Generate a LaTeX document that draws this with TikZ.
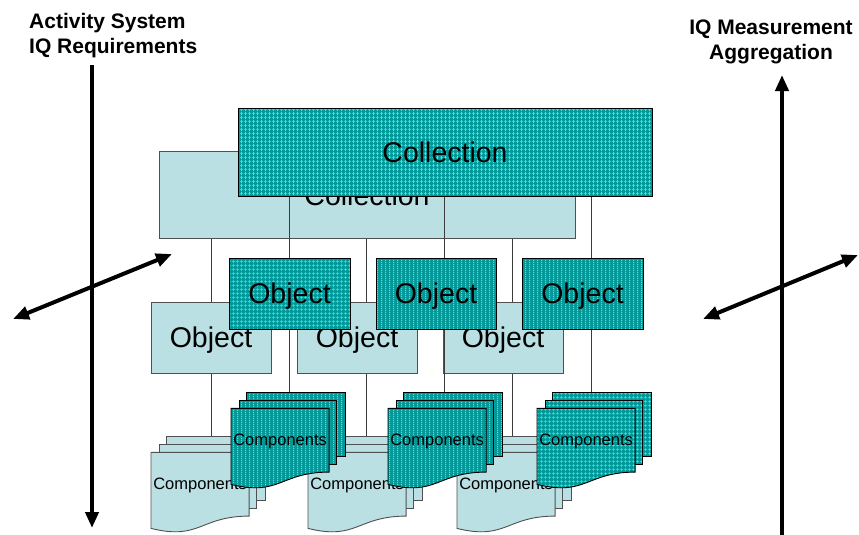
\documentclass[tikz,border=0pt]{standalone}
\usepackage{fontspec}
\setmainfont{Liberation Sans}
\usetikzlibrary{arrows.meta,patterns}

\definecolor{lightfill}{RGB}{187,224,227}
\definecolor{lightedge}{RGB}{80,80,80}
\definecolor{tealbase}{RGB}{0,153,153}
\definecolor{tealline}{RGB}{125,205,205}
\definecolor{tealdot}{RGB}{190,232,232}
\definecolor{linkgray}{RGB}{60,60,60}

% fine grid texture
\pgfdeclarepatternformonly{tealgrid}{\pgfqpoint{0pt}{0pt}}{\pgfqpoint{4pt}{4pt}}{\pgfqpoint{4pt}{4pt}}{%
  \pgfsetlinewidth{0.9pt}%
  \pgfpathmoveto{\pgfqpoint{0pt}{2pt}}\pgfpathlineto{\pgfqpoint{4pt}{2pt}}%
  \pgfpathmoveto{\pgfqpoint{2pt}{0pt}}\pgfpathlineto{\pgfqpoint{2pt}{4pt}}%
  \pgfusepath{stroke}}
% vertical dotted texture
\pgfdeclarepatternformonly{tealdots}{\pgfqpoint{0pt}{0pt}}{\pgfqpoint{4pt}{2pt}}{\pgfqpoint{4pt}{2pt}}{%
  \pgfpathrectangle{\pgfqpoint{1.5pt}{0.4pt}}{\pgfqpoint{1.1pt}{1.2pt}}%
  \pgfusepath{fill}}

\tikzset{
  lightshape/.style={draw=lightedge, line width=0.9pt, fill=lightfill},
  tealgridshape/.style={draw=black, line width=0.9pt, preaction={fill=tealbase},
    pattern=tealgrid, pattern color=tealline},
  tealdotshape/.style={draw=black, line width=0.9pt, preaction={fill=tealbase},
    pattern=tealdots, pattern color=tealdot},
  bigtext/.style={font=\fontsize{28.5}{30}\selectfont, text=black, text depth=0pt},
  comptext/.style={font=\fontsize{16.5}{18}\selectfont, text=black, inner sep=0pt, text depth=0pt},
  collbox/.style={rectangle, minimum width=#1, minimum height=87pt, inner sep=0pt, bigtext},
  objbox/.style={rectangle, minimum width=#1, minimum height=71pt, inner sep=0pt, bigtext},
  linkline/.style={draw=linkgray, line width=0.9pt},
  heavyarrow/.style={line width=4pt, -{Triangle[length=16pt,width=13pt]}},
  heavyboth/.style={line width=4pt, {Triangle[length=16pt,width=13pt]}-{Triangle[length=16pt,width=13pt]}},
  axislabel/.style={font=\fontsize{21}{25}\selectfont\bfseries, inner sep=0pt},
  % stack of three pages with a wavy bottom edge, origin at the top left corner
  pics/multidoc/.style 2 args={code={
    \path[#1] (15.7,0) rectangle (114,64);
    \path[#1] (8.1,8.1) rectangle (105.6,72.2);
    \path[#1] (0,16.3) -- (98.1,16.3) -- (98.1,80.1)
      .. controls (49.1,80.1) and (49.1,104.6) .. (0,92.4) -- cycle;
    \node[comptext] (-t) at (49.1,47.5) {#2};
    \coordinate (-top) at (57,8.1);
  }}
}

\begin{document}
\begin{tikzpicture}[x=1pt,y=-1pt]
\useasboundingbox (0,0) rectangle (859,535);

% ---- rear layer ----
\node[collbox=416pt, lightshape] (bcoll) at (367,195) {Collection};

% links from the rear collection down to its component stacks
\coordinate (lc1top) at (211,443);
\coordinate (lc2top) at (366,443);
\coordinate (lc3top) at (512,443);
\draw[linkline] (lc1top |- bcoll.south) -- (lc1top);
\draw[linkline] (lc2top |- bcoll.south) -- (lc2top);
\draw[linkline] (lc3top |- bcoll.south) -- (lc3top);

\node[objbox=120pt, lightshape] (bo1) at (211,337.5) {Object};
\node[objbox=120pt, lightshape] (bo2) at (357,337.5) {Object};
\node[objbox=120pt, lightshape] (bo3) at (503,337.5) {Object};

\pic (lc1) at (151,436) {multidoc={lightshape}{Components}};
\pic (lc2) at (308,436) {multidoc={lightshape}{Components}};
\pic (lc3) at (457,436) {multidoc={lightshape}{Components}};

% ---- front layer ----
\coordinate (tc1top) at (289,400);
\coordinate (tc2top) at (444,400);
\coordinate (tc3top) at (591,400);
\node[collbox=414pt, minimum height=88pt, draw=none] (fcollpos) at (445,152) {};
\draw[linkline] (tc1top |- fcollpos.south) -- (tc1top);
\draw[linkline] (tc2top |- fcollpos.south) -- (tc2top);
\draw[linkline] (tc3top |- fcollpos.south) -- (tc3top);

\node[collbox=414pt, minimum height=88pt, tealgridshape] (fcoll) at (445,152) {Collection};

\node[objbox=121pt, tealgridshape] (fo1) at (289.5,293.5) {Object};
\node[objbox=120pt, tealdotshape] (fo2) at (436,293.5) {Object};
\node[objbox=121pt, tealdotshape] (fo3) at (582.5,293.5) {Object};

\pic (tc1) at (231,392) {multidoc={tealdotshape}{Components}};
\pic (tc2) at (388,392) {multidoc={tealdotshape}{Components}};
\pic (tc3) at (537,392) {multidoc={tealgridshape}{Components}};

% ---- axes ----
\coordinate (la1) at (92,65);
\coordinate (la2) at (92,528);
\coordinate (ld1) at (13,319);
\coordinate (ld2) at (172,254);
\coordinate (ra1) at (782,537);
\coordinate (ra2) at (782,75);
\coordinate (rd1) at (703,319);
\coordinate (rd2) at (858,255);
\draw[heavyarrow] (la1) -- (la2);
\draw[heavyboth] (ld1) -- (ld2);
\draw[heavyarrow] (ra1) -- (ra2);
\draw[heavyboth] (rd1) -- (rd2);

\node[axislabel, anchor=north west, align=left] (ltitle) at (29,13)
  {Activity System\\IQ Requirements};
\node[axislabel, anchor=north, align=center] (rtitle) at (771,20)
  {IQ Measurement\\Aggregation};
\end{tikzpicture}
\end{document}
